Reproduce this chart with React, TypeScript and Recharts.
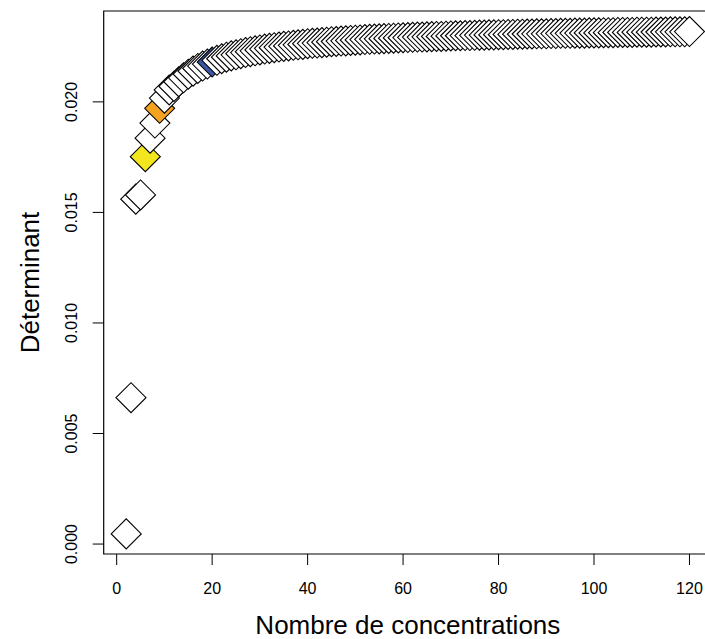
import React from "react";
import { ScatterChart, Scatter, XAxis, YAxis, ReferenceArea, Label } from "recharts";

const concentrations = [
  2, 3, 4, 5, 6, 7, 8, 9, 10, 11, 12, 13, 14, 15, 16, 17, 18, 19, 20,
  21, 22, 23, 24, 25, 26, 27, 28, 29, 30, 31, 32, 33, 34, 35, 36, 37, 38, 39, 40,
  41, 42, 43, 44, 45, 46, 47, 48, 49, 50, 51, 52, 53, 54, 55, 56, 57, 58, 59, 60,
  61, 62, 63, 64, 65, 66, 67, 68, 69, 70, 71, 72, 73, 74, 75, 76, 77, 78, 79, 80,
  81, 82, 83, 84, 85, 86, 87, 88, 89, 90, 91, 92, 93, 94, 95, 96, 97, 98, 99, 100,
  101, 102, 103, 104, 105, 106, 107, 108, 109, 110, 111, 112, 113, 114, 115, 116, 117, 118, 119, 120,
];

const determinants = [
  0.00046, 0.00662, 0.0156, 0.01579, 0.01752, 0.01836, 0.01904, 0.01971, 0.02017, 0.02054,
  0.0207, 0.02091, 0.02109, 0.02125, 0.02139, 0.02151, 0.02162, 0.02171, 0.0218,
  0.02188, 0.02195, 0.02202, 0.02208, 0.02213, 0.02218, 0.02223, 0.02227, 0.02231, 0.02235,
  0.02239, 0.02242, 0.02245, 0.02248, 0.02251, 0.02253, 0.02256, 0.02258, 0.0226, 0.02263,
  0.02265, 0.02266, 0.02268, 0.0227, 0.02272, 0.02273, 0.02275, 0.02276, 0.02278, 0.02279,
  0.0228, 0.02282, 0.02283, 0.02284, 0.02285, 0.02286, 0.02287, 0.02288, 0.02289, 0.0229,
  0.02291, 0.02292, 0.02293, 0.02293, 0.02294, 0.02295, 0.02296, 0.02296, 0.02297, 0.02298,
  0.02299, 0.02299, 0.023, 0.023, 0.02301, 0.02302, 0.02302, 0.02303, 0.02303, 0.02304,
  0.02304, 0.02305, 0.02305, 0.02306, 0.02306, 0.02307, 0.02307, 0.02308, 0.02308, 0.02308,
  0.02309, 0.02309, 0.0231, 0.0231, 0.0231, 0.02311, 0.02311, 0.02311, 0.02312, 0.02312,
  0.02312, 0.02313, 0.02313, 0.02313, 0.02314, 0.02314, 0.02314, 0.02314, 0.02315, 0.02315,
  0.02315, 0.02315, 0.02316, 0.02316, 0.02316, 0.02317, 0.02317, 0.02317, 0.02317, 0.02318,
];

const xTicks = [0, 20, 40, 60, 80, 100, 120];
const yTicks = [0, 0.005, 0.01, 0.015, 0.02];
const xDomain: [number, number] = [-2.72, 124.72];
const yDomain: [number, number] = [-0.00045, 0.02411];

const highlightColors: Record<number, string> = {
  6: "#F2E71F",
  9: "#F5A21E",
  20: "#3A55A4",
};

const FONT = "'Liberation Sans', Arial, Helvetica, sans-serif";

const data = concentrations.map((n, i) => ({ n, det: determinants[i] }));

const Diamond = (props: any) => {
  const { cx, cy, payload } = props;
  if (cx == null || cy == null) return null;
  const r = 15;
  const fill = highlightColors[payload.n] || "#FFFFFF";
  return (
    <polygon
      points={`${cx - r},${cy} ${cx},${cy - r} ${cx + r},${cy} ${cx},${cy + r}`}
      fill={fill}
      stroke="#000"
      strokeWidth={1.1}
    />
  );
};

const XTick = (props: any) => {
  const { x, y, payload } = props;
  return (
    <text x={x} y={y} dy={26.5} textAnchor="middle" fontSize={16} fontFamily={FONT} fill="#000">
      {payload.value}
    </text>
  );
};

const YTick = (props: any) => {
  const { x, y, payload } = props;
  const bx = x - 13.7;
  return (
    <text
      x={bx}
      y={y}
      textAnchor="middle"
      fontSize={16}
      fontFamily={FONT}
      fill="#000"
      transform={`rotate(-90, ${bx}, ${y})`}
    >
      {Number(payload.value).toFixed(3)}
    </text>
  );
};

export default function App() {
  return (
    <div
      style={{
        position: "absolute",
        left: 0,
        top: 0,
        width: 705,
        height: 639,
        overflow: "hidden",
        background: "#fff",
      }}
    >
      <ScatterChart width={712} height={639} margin={{ top: 11, right: 0, bottom: 0, left: 0 }}>
        <XAxis
          type="number"
          dataKey="n"
          domain={xDomain}
          ticks={xTicks}
          allowDataOverflow
          height={85}
          tickSize={11}
          tickLine={{ stroke: "#000", strokeWidth: 1 }}
          axisLine={false}
          tick={<XTick />}
          interval={0}
        >
          <Label
            content={(p: any) => {
              const vb = p.viewBox;
              const cx = vb.x + vb.width / 2;
              return (
                <text x={cx} y={vb.y + 80} textAnchor="middle" fontSize={26} fontFamily={FONT} fill="#000">
                  Nombre de concentrations
                </text>
              );
            }}
          />
        </XAxis>
        <YAxis
          type="number"
          dataKey="det"
          domain={yDomain}
          ticks={yTicks}
          allowDataOverflow
          width={103.7}
          tickSize={11}
          tickLine={{ stroke: "#000", strokeWidth: 1 }}
          axisLine={false}
          tick={<YTick />}
          interval={0}
        >
          <Label
            content={(p: any) => {
              const vb = p.viewBox;
              const cy = vb.y + vb.height / 2;
              const bx = 39;
              return (
                <text
                  x={bx}
                  y={cy}
                  textAnchor="middle"
                  fontSize={26}
                  fontFamily={FONT}
                  fill="#000"
                  transform={`rotate(-90, ${bx}, ${cy})`}
                >
                  Déterminant
                </text>
              );
            }}
          />
        </YAxis>
        <ReferenceArea
          x1={xDomain[0]}
          x2={xDomain[1]}
          y1={yDomain[0]}
          y2={yDomain[1]}
          fill="none"
          fillOpacity={0}
          stroke="#000"
          strokeWidth={1.2}
          ifOverflow="visible"
        />
        <Scatter data={data} shape={<Diamond />} isAnimationActive={false} />
      </ScatterChart>
    </div>
  );
}
